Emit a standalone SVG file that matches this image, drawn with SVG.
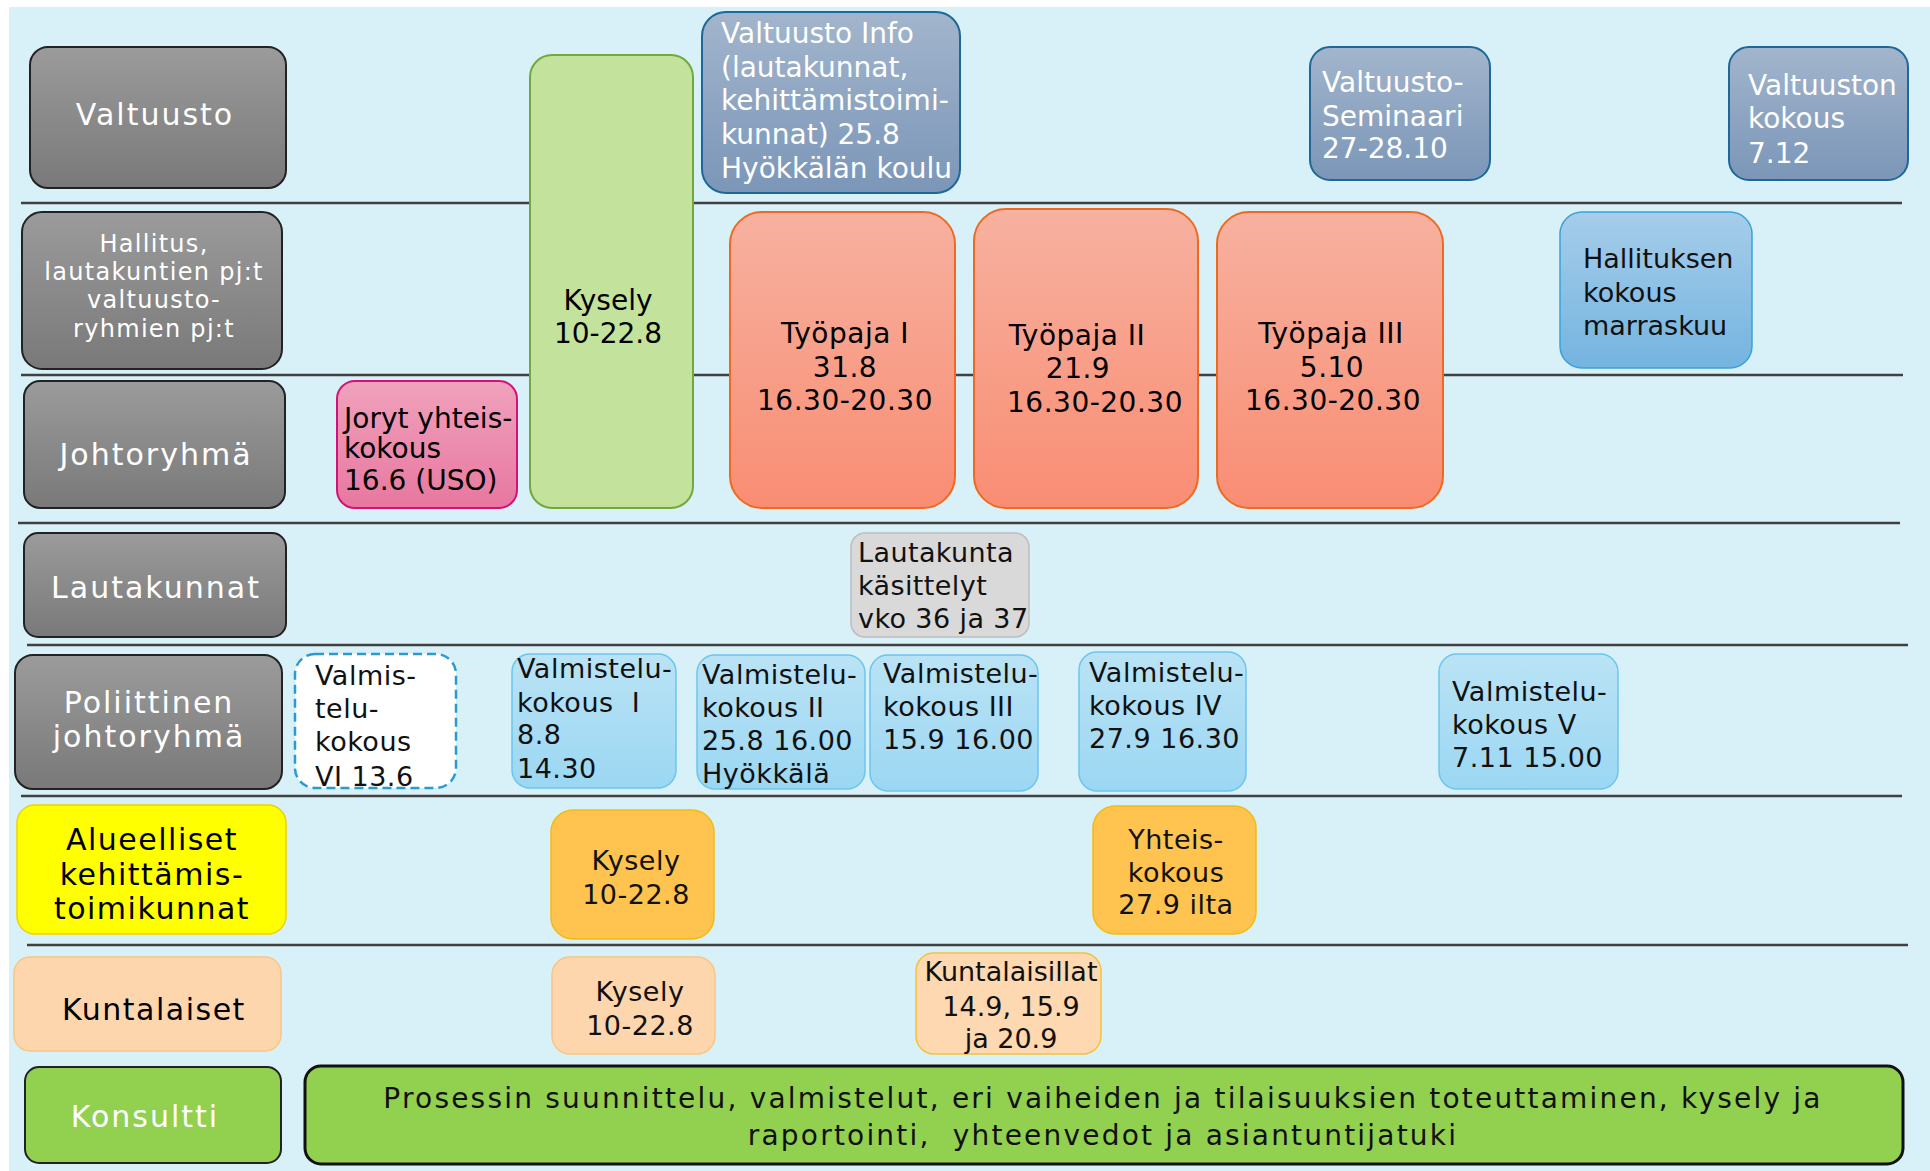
<svg xmlns="http://www.w3.org/2000/svg" width="1930" height="1171" viewBox="0 0 1930 1171">
<defs>
<linearGradient id="gGray" x1="0" y1="0" x2="0" y2="1"><stop offset="0" stop-color="#9b9b9b"/><stop offset="1" stop-color="#797979"/></linearGradient>
<linearGradient id="gSlate" x1="0" y1="0" x2="0" y2="1"><stop offset="0" stop-color="#a2b5cc"/><stop offset="1" stop-color="#7b96b8"/></linearGradient>
<linearGradient id="gPink" x1="0" y1="0" x2="0" y2="1"><stop offset="0" stop-color="#f0a2bd"/><stop offset="1" stop-color="#e8779f"/></linearGradient>
<linearGradient id="gSalmon" x1="0" y1="0" x2="0" y2="1"><stop offset="0" stop-color="#f7b1a0"/><stop offset="1" stop-color="#f98d73"/></linearGradient>
<linearGradient id="gBlue" x1="0" y1="0" x2="0" y2="1"><stop offset="0" stop-color="#a6cdea"/><stop offset="1" stop-color="#74b4e0"/></linearGradient>
<linearGradient id="gSky" x1="0" y1="0" x2="0" y2="1"><stop offset="0" stop-color="#bae3f5"/><stop offset="1" stop-color="#9bd7f3"/></linearGradient>
</defs>
<style>
text{font-family:"DejaVu Sans","Liberation Sans",sans-serif;}
.lab{fill:url(#gGray);stroke:#222;stroke-width:2;}
.lt{font-size:30px;fill:#fff;letter-spacing:2px;text-anchor:middle;}
.ltb{font-size:30px;fill:#000;letter-spacing:1.5px;text-anchor:middle;}
.t{font-size:28px;fill:#000;}
.tw{font-size:28px;fill:#fff;}
.s{font-size:27px;fill:#111;}
.c{text-anchor:middle;}
.lane{stroke:#404040;stroke-width:2.5;}
.slate{fill:url(#gSlate);stroke:#1d6898;stroke-width:2;}
.salmon{fill:url(#gSalmon);stroke:#ee6a20;stroke-width:2;}
.sky{fill:url(#gSky);stroke:#6cc5ee;stroke-width:1.5;}
.orange{fill:#ffc34f;stroke:#f3bb10;stroke-width:1.5;}
.peach{fill:#fdd6ad;stroke:#f8c680;stroke-width:1.5;}
</style>
<rect x="9" y="7" width="1921" height="1164" fill="#d8f1f8"/>
<g id="lanes">
<line class="lane" x1="21" y1="203" x2="1902" y2="203"/>
<line class="lane" x1="21" y1="375" x2="1903" y2="375"/>
<line class="lane" x1="18" y1="523" x2="1900" y2="523"/>
<line class="lane" x1="27" y1="645" x2="1908" y2="645"/>
<line class="lane" x1="21" y1="796" x2="1902" y2="796"/>
<line class="lane" x1="27" y1="945" x2="1908" y2="945"/>
</g>
<g id="label-valtuusto"><rect class="lab" x="30" y="47" width="256" height="141" rx="18"/><text class="lt" x="155" y="125">Valtuusto</text></g>
<g id="label-hallitus"><rect class="lab" x="22" y="212" width="260" height="157" rx="20"/>
<text style="font-size:24px;fill:#fff;letter-spacing:1.3px;text-anchor:middle"><tspan x="154" y="252">Hallitus,</tspan><tspan x="154" y="280">lautakuntien pj:t</tspan><tspan x="154" y="308">valtuusto-</tspan><tspan x="154" y="337">ryhmien pj:t</tspan></text></g>
<g id="label-johtoryhma"><rect class="lab" x="24" y="381" width="261" height="127" rx="16"/><text class="lt" x="156" y="465">Johtoryhmä</text></g>
<g id="label-lautakunnat"><rect class="lab" x="24" y="533" width="262" height="104" rx="14"/><text class="lt" x="156" y="598">Lautakunnat</text></g>
<g id="label-poliittinen"><rect class="lab" x="15" y="655" width="267" height="134" rx="18"/><text class="lt"><tspan x="149" y="713">Poliittinen</tspan><tspan x="149" y="747">johtoryhmä</tspan></text></g>
<g id="label-alueelliset"><rect x="17" y="805" width="269" height="129" rx="18" fill="#ffff00" stroke="#f0d200" stroke-width="1.5"/><text class="ltb"><tspan x="152" y="850">Alueelliset</tspan><tspan x="152" y="885">kehittämis-</tspan><tspan x="152" y="919">toimikunnat</tspan></text></g>
<g id="label-kuntalaiset"><rect class="peach" x="14" y="957" width="267" height="94" rx="16"/><text class="ltb" x="154" y="1020">Kuntalaiset</text></g>
<g id="label-konsultti"><rect x="25" y="1067" width="256" height="96" rx="14" fill="#92d050" stroke="#222" stroke-width="2"/><text class="lt" x="145" y="1127">Konsultti</text></g>

<g id="kysely-green"><rect x="530" y="55" width="163" height="453" rx="22" fill="#c3e29b" stroke="#72a83e" stroke-width="2"/><text class="t c"><tspan x="608" y="310">Kysely</tspan><tspan x="608" y="343">10-22.8</tspan></text></g>
<g id="joryt"><rect x="337" y="381" width="180" height="127" rx="18" fill="url(#gPink)" stroke="#d2127a" stroke-width="2"/><text class="t"><tspan x="344" y="428">Joryt yhteis-</tspan><tspan x="344" y="458">kokous</tspan><tspan x="344" y="490">16.6 (USO)</tspan></text></g>
<g id="valtuusto-info"><rect class="slate" x="702" y="12" width="258" height="181" rx="24"/><text class="tw"><tspan x="721" y="43">Valtuusto Info</tspan><tspan x="721" y="77">(lautakunnat,</tspan><tspan x="721" y="110">kehittämistoimi-</tspan><tspan x="721" y="144">kunnat) 25.8</tspan><tspan x="721" y="178">Hyökkälän koulu</tspan></text></g>
<g id="tyopaja-1"><rect class="salmon" x="730" y="212" width="225" height="296" rx="32"/><text class="t c" style="letter-spacing:0.5px"><tspan x="845" y="343">Työpaja I</tspan><tspan x="845" y="377">31.8</tspan><tspan x="845" y="410">16.30-20.30</tspan></text></g>
<g id="tyopaja-2"><rect class="salmon" x="974" y="209" width="224" height="299" rx="32"/><text class="t c" style="letter-spacing:0.5px"><tspan x="1077" y="345">Työpaja II</tspan><tspan x="1078" y="378">21.9</tspan><tspan x="1095" y="412">16.30-20.30</tspan></text></g>
<g id="tyopaja-3"><rect class="salmon" x="1217" y="212" width="226" height="296" rx="32"/><text class="t c" style="letter-spacing:0.5px"><tspan x="1331" y="343">Työpaja III</tspan><tspan x="1332" y="377">5.10</tspan><tspan x="1333" y="410">16.30-20.30</tspan></text></g>
<g id="valtuusto-seminaari"><rect class="slate" x="1310" y="47" width="180" height="133" rx="20"/><text class="tw"><tspan x="1322" y="92">Valtuusto-</tspan><tspan x="1322" y="126">Seminaari</tspan><tspan x="1322" y="158">27-28.10</tspan></text></g>
<g id="valtuuston-kokous"><rect class="slate" x="1729" y="47" width="179" height="133" rx="20"/><text class="tw"><tspan x="1748" y="95">Valtuuston</tspan><tspan x="1748" y="128">kokous</tspan><tspan x="1748" y="163">7.12</tspan></text></g>
<g id="hallituksen-kokous"><rect x="1560" y="212" width="192" height="156" rx="22" fill="url(#gBlue)" stroke="#3aa2d8" stroke-width="1.5"/><text class="s"><tspan x="1583" y="268">Hallituksen</tspan><tspan x="1583" y="302">kokous</tspan><tspan x="1583" y="335">marraskuu</tspan></text></g>
<g id="lautakunta-kasittelyt"><rect x="851" y="533" width="178" height="104" rx="14" fill="#d9d9d9" stroke="#bdbdbd" stroke-width="1.5"/><text class="s" style="letter-spacing:0.4px"><tspan x="858" y="562">Lautakunta</tspan><tspan x="858" y="595">käsittelyt</tspan><tspan x="858" y="628">vko 36 ja 37</tspan></text></g>
<g id="valmistelu-6"><rect x="295" y="654" width="161" height="134" rx="20" fill="#fff" stroke="#2a9bd0" stroke-width="2.5" stroke-dasharray="9 5"/><text class="s" style="letter-spacing:0.5px"><tspan x="315" y="685">Valmis-</tspan><tspan x="315" y="718">telu-</tspan><tspan x="315" y="751">kokous</tspan><tspan x="315" y="786">VI 13.6</tspan></text></g>
<g id="valmistelu-1"><rect class="sky" x="512" y="654" width="164" height="134" rx="18"/><text class="s" style="letter-spacing:0.5px"><tspan x="517" y="678">Valmistelu-</tspan><tspan x="517" y="712" xml:space="preserve">kokous  I</tspan><tspan x="517" y="744">8.8</tspan><tspan x="517" y="778">14.30</tspan></text></g>
<g id="valmistelu-2"><rect class="sky" x="697" y="655" width="168" height="134" rx="18"/><text class="s" style="letter-spacing:0.5px"><tspan x="702" y="684">Valmistelu-</tspan><tspan x="702" y="717">kokous II</tspan><tspan x="702" y="750">25.8 16.00</tspan><tspan x="702" y="783">Hyökkälä</tspan></text></g>
<g id="valmistelu-3"><rect class="sky" x="870" y="655" width="168" height="136" rx="18"/><text class="s" style="letter-spacing:0.5px"><tspan x="883" y="683">Valmistelu-</tspan><tspan x="883" y="716">kokous III</tspan><tspan x="883" y="749">15.9 16.00</tspan></text></g>
<g id="valmistelu-4"><rect class="sky" x="1079" y="652" width="167" height="139" rx="18"/><text class="s" style="letter-spacing:0.5px"><tspan x="1089" y="682">Valmistelu-</tspan><tspan x="1089" y="715">kokous IV</tspan><tspan x="1089" y="748">27.9 16.30</tspan></text></g>
<g id="valmistelu-5"><rect class="sky" x="1439" y="654" width="179" height="135" rx="18"/><text class="s" style="letter-spacing:0.5px"><tspan x="1452" y="701">Valmistelu-</tspan><tspan x="1452" y="734">kokous V</tspan><tspan x="1452" y="767">7.11 15.00</tspan></text></g>
<g id="kysely-orange"><rect class="orange" x="551" y="810" width="163" height="129" rx="22"/><text class="s c" style="letter-spacing:0.5px"><tspan x="636" y="870">Kysely</tspan><tspan x="636" y="904">10-22.8</tspan></text></g>
<g id="yhteiskokous"><rect class="orange" x="1093" y="806" width="163" height="128" rx="22"/><text class="s c" style="letter-spacing:0.5px"><tspan x="1176" y="849">Yhteis-</tspan><tspan x="1176" y="882">kokous</tspan><tspan x="1176" y="914">27.9 ilta</tspan></text></g>
<g id="kysely-peach"><rect class="peach" x="552" y="957" width="163" height="97" rx="18"/><text class="s c" style="letter-spacing:0.5px"><tspan x="640" y="1001">Kysely</tspan><tspan x="640" y="1035">10-22.8</tspan></text></g>
<g id="kuntalaisillat"><rect x="916" y="953" width="185" height="101" rx="18" fill="#fdd8b0" stroke="#f2c23a" stroke-width="1.5"/><text class="s c"><tspan x="1011" y="981">Kuntalaisillat</tspan><tspan x="1011" y="1016">14.9, 15.9</tspan><tspan x="1011" y="1048">ja 20.9</tspan></text></g>
<g id="konsultti-tehtavat"><rect x="305" y="1066" width="1598" height="98" rx="16" fill="#92d050" stroke="#111" stroke-width="3"/><text class="c" style="font-size:28px;fill:#111;letter-spacing:2.2px" xml:space="preserve"><tspan x="1103" y="1108">Prosessin suunnittelu, valmistelut, eri vaiheiden ja tilaisuuksien toteuttaminen, kysely ja</tspan><tspan x="1103" y="1145">raportointi,  yhteenvedot ja asiantuntijatuki</tspan></text></g>
</svg>
